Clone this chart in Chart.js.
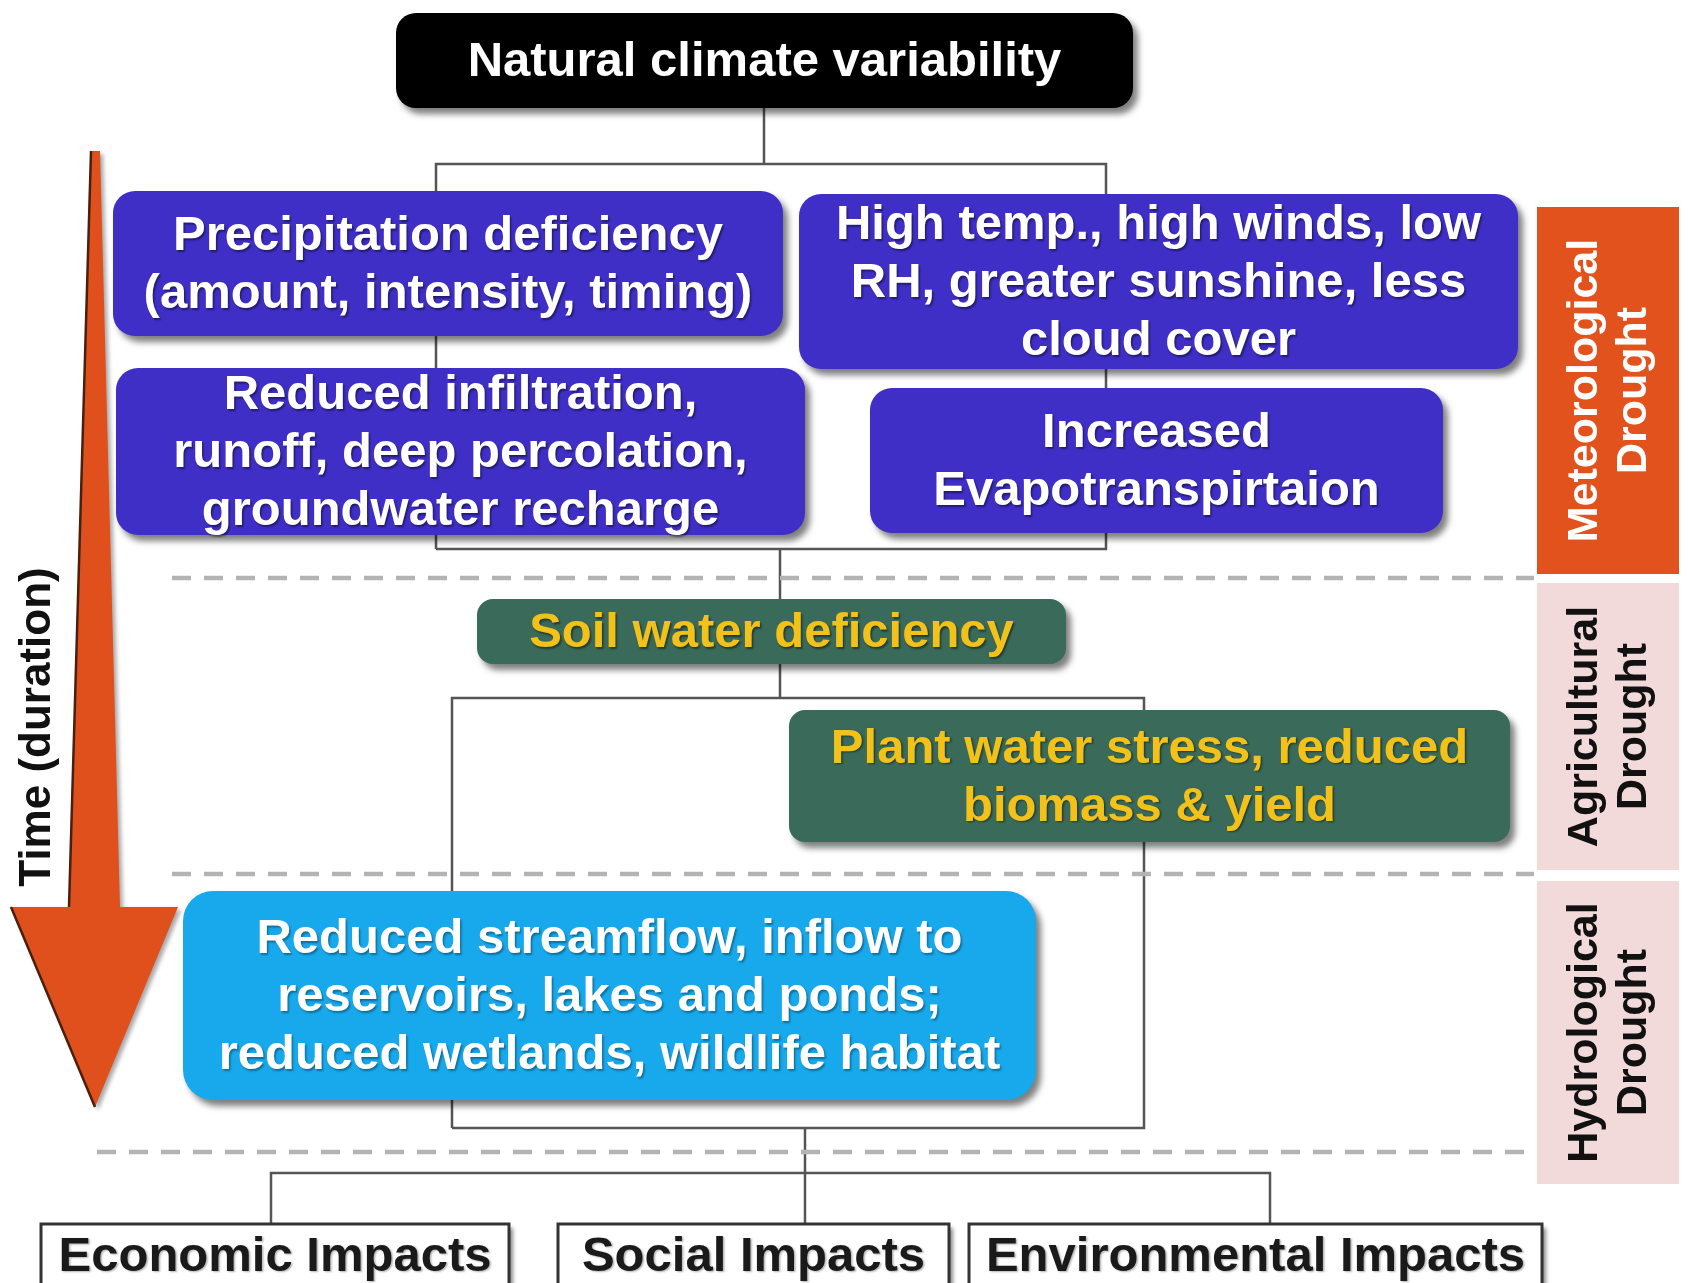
<!DOCTYPE html>
<html>
<head>
<meta charset="utf-8">
<script src="https://cdn.jsdelivr.net/npm/chart.js@4.4.1/dist/chart.umd.min.js"></script>
<style>
  html, body { margin: 0; padding: 0; background: #fff; }
  #wrap { width: 1688px; height: 1283px; position: relative; }
</style>
</head>
<body>
<div id="wrap"><canvas id="diagram"></canvas></div>
<script>
// ---- texts of the diagram ----
const topLabel = ['Natural climate variability'];
const meteoLabels = [
  ['Precipitation deficiency', '(amount, intensity, timing)'],
  ['High temp., high winds, low', 'RH, greater sunshine, less', 'cloud cover'],
  ['Reduced infiltration,', 'runoff, deep percolation,', 'groundwater recharge'],
  ['Increased', 'Evapotranspirtaion']
];
const agriLabels = [
  ['Soil water deficiency'],
  ['Plant water stress, reduced', 'biomass & yield']
];
const hydroLabels = [
  ['Reduced streamflow, inflow to', 'reservoirs, lakes and ponds;', 'reduced wetlands, wildlife habitat']
];
const impactLabels = ['Economic Impacts', 'Social Impacts', 'Environmental Impacts'];
const stageLabels = [
  ['Meteorological', 'Drought'],
  ['Agricultural', 'Drought'],
  ['Hydrological', 'Drought']
];
const timeLabel = 'Time (duration)';

// ---- layout, in diagram units (x: 0..1688, y: 0..1283 top-down) ----
const topBox = [396, 13, 1133, 108];
const meteoBoxes = [[113, 191, 783, 336], [799, 194, 1518, 369], [116, 368, 805, 535], [870, 388, 1443, 533]];
const agriBoxes = [[477, 599, 1066, 664], [789, 710, 1510, 842]];
const hydroBoxes = [[183, 891, 1036, 1100]];
const impactBoxes = [[41, 1224, 509, 1300], [558, 1224, 949, 1300], [969, 1224, 1542, 1300]];
const stageBoxes = [[1537, 207, 1679, 574], [1537, 583, 1679, 870], [1537, 881, 1679, 1184]];
const separatorY = [578, 874, 1152];
const separatorX0 = [172, 172, 97];
const separatorX1 = 1534;

const connectors = [
  [[764, 108], [764, 164]],
  [[436, 549], [436, 164], [1106, 164], [1106, 549], [436, 549]],
  [[780, 549], [780, 599]],
  [[780, 664], [780, 698]],
  [[452, 1128], [452, 698], [1144, 698], [1144, 1128], [452, 1128]],
  [[805, 1128], [805, 1224]],
  [[271, 1224], [271, 1173], [1270, 1173], [1270, 1224]]
];
const arrowShape = [[91, 151], [100, 151], [120, 907], [178, 907], [95, 1107], [11, 907], [69, 907]];

const colors = {
  meteo: '#3f2fc6', agri: '#3a6a5a', agriText: '#f2c21b', hydro: '#17a9ec',
  stage: ['#e2521d', '#f2dada', '#f2dada'], stageText: ['#ffffff', '#111111', '#111111'],
  line: '#555555', dash: '#b3b3b3', arrow: '#e0501c'
};

const FONT = '"Liberation Sans", Arial, sans-serif';

function toLine(path) {
  return path.map(p => ({ x: p[0], y: p[1] }));
}

const datasets = [];
separatorY.forEach((y, i) => {
  datasets.push({
    data: toLine([[separatorX0[i], y], [separatorX1, y]]),
    showLine: true, borderColor: colors.dash, borderWidth: 4.5,
    borderDash: [19, 13], pointRadius: 0
  });
});
connectors.forEach(path => {
  datasets.push({
    data: toLine(path), showLine: true, borderColor: colors.line,
    borderWidth: 2.5, pointRadius: 0, tension: 0
  });
});

function rect(chart, b) {
  const sx = chart.scales.x, sy = chart.scales.y;
  const x0 = sx.getPixelForValue(b[0]), y0 = sy.getPixelForValue(b[1]);
  const x1 = sx.getPixelForValue(b[2]), y1 = sy.getPixelForValue(b[3]);
  return { x: x0, y: y0, w: x1 - x0, h: y1 - y0 };
}

function drawBox(ctx, chart, b, fill, radius, lines, textColor, textShadow) {
  const r = rect(chart, b);
  ctx.save();
  ctx.shadowColor = 'rgba(0,0,0,0.5)';
  ctx.shadowOffsetX = 5;
  ctx.shadowOffsetY = 6;
  ctx.shadowBlur = 6;
  ctx.fillStyle = fill;
  ctx.beginPath();
  ctx.roundRect(r.x, r.y, r.w, r.h, radius);
  ctx.fill();
  ctx.restore();
  drawLines(ctx, r.x + r.w / 2, r.y + r.h / 2, lines, textColor, textShadow, 'bold 49px ' + FONT, 58);
}

function drawLines(ctx, cx, cy, lines, color, shadow, font, step) {
  ctx.save();
  ctx.font = font;
  ctx.fillStyle = color;
  ctx.textAlign = 'center';
  ctx.textBaseline = 'middle';
  if (shadow) {
    ctx.shadowColor = shadow;
    ctx.shadowOffsetX = 1.5;
    ctx.shadowOffsetY = 1.5;
    ctx.shadowBlur = 2;
  }
  const start = cy - (lines.length - 1) * step / 2;
  lines.forEach((t, i) => ctx.fillText(t, cx, start + i * step + 2));
  ctx.restore();
}

const diagramPlugin = {
  id: 'diagram',
  beforeDatasetsDraw(chart) {
    const ctx = chart.ctx;
    const sx = chart.scales.x, sy = chart.scales.y;
    // time arrow
    ctx.save();
    ctx.shadowColor = 'rgba(0,0,0,0.35)';
    ctx.shadowOffsetX = 3;
    ctx.shadowOffsetY = 3;
    ctx.shadowBlur = 4;
    ctx.fillStyle = colors.arrow;
    ctx.beginPath();
    arrowShape.forEach((p, i) => {
      const x = sx.getPixelForValue(p[0]), y = sy.getPixelForValue(p[1]);
      i ? ctx.lineTo(x, y) : ctx.moveTo(x, y);
    });
    ctx.closePath();
    ctx.fill();
    ctx.restore();
    ctx.save();
    ctx.strokeStyle = '#4a1f0c';
    ctx.lineWidth = 2.5;
    ctx.beginPath();
    ctx.moveTo(sx.getPixelForValue(arrowShape[0][0]), sy.getPixelForValue(arrowShape[0][1]));
    ctx.lineTo(sx.getPixelForValue(arrowShape[6][0]), sy.getPixelForValue(arrowShape[6][1]));
    ctx.moveTo(sx.getPixelForValue(arrowShape[5][0]), sy.getPixelForValue(arrowShape[5][1]));
    ctx.lineTo(sx.getPixelForValue(arrowShape[4][0]), sy.getPixelForValue(arrowShape[4][1]));
    ctx.stroke();
    ctx.restore();
    // time label
    ctx.save();
    ctx.translate(sx.getPixelForValue(38), sy.getPixelForValue(727));
    ctx.rotate(-Math.PI / 2);
    ctx.font = 'bold 44px ' + FONT;
    ctx.fillStyle = '#111';
    ctx.textAlign = 'center';
    ctx.textBaseline = 'middle';
    ctx.fillText(timeLabel, 0, 0);
    ctx.restore();
  },
  afterDatasetsDraw(chart) {
    const ctx = chart.ctx;
    drawBox(ctx, chart, topBox, '#000000', 20, topLabel, '#ffffff', null);
    meteoBoxes.forEach((b, i) => drawBox(ctx, chart, b, colors.meteo, 22, meteoLabels[i], '#ffffff', 'rgba(0,0,0,0.45)'));
    agriBoxes.forEach((b, i) => drawBox(ctx, chart, b, colors.agri, 16, agriLabels[i], colors.agriText, 'rgba(0,0,0,0.45)'));
    hydroBoxes.forEach((b, i) => drawBox(ctx, chart, b, colors.hydro, 30, hydroLabels[i], '#ffffff', 'rgba(0,0,0,0.35)'));

    // impact boxes
    impactBoxes.forEach((b, i) => {
      const r = rect(chart, b);
      ctx.save();
      ctx.shadowColor = 'rgba(0,0,0,0.45)';
      ctx.shadowOffsetX = 4;
      ctx.shadowOffsetY = 4;
      ctx.shadowBlur = 4;
      ctx.fillStyle = '#fff';
      ctx.fillRect(r.x, r.y, r.w, r.h);
      ctx.restore();
      ctx.save();
      ctx.strokeStyle = '#333';
      ctx.lineWidth = 3;
      ctx.strokeRect(r.x, r.y, r.w, r.h);
      ctx.restore();
      drawLines(ctx, r.x + r.w / 2, chart.scales.y.getPixelForValue(1255), [impactLabels[i]], '#1a1a1a', 'rgba(0,0,0,0.3)', 'bold 49px ' + FONT, 58);
    });

    // drought stage bands on the right
    stageBoxes.forEach((b, i) => {
      const r = rect(chart, b);
      ctx.save();
      ctx.fillStyle = colors.stage[i];
      ctx.fillRect(r.x, r.y, r.w, r.h);
      ctx.restore();
      ctx.save();
      ctx.translate(r.x + r.w / 2, r.y + r.h / 2);
      ctx.rotate(-Math.PI / 2);
      drawLines(ctx, 0, 0, stageLabels[i], colors.stageText[i], null, 'bold 43px ' + FONT, 49);
      ctx.restore();
    });
  }
};

new Chart(document.getElementById('diagram'), {
  type: 'scatter',
  data: { datasets },
  options: {
    responsive: true,
    maintainAspectRatio: false,
    animation: false,
    events: [],
    layout: { padding: 0 },
    scales: {
      x: { type: 'linear', min: 0, max: 1688, display: false },
      y: { type: 'linear', min: 0, max: 1283, reverse: true, display: false }
    },
    plugins: { legend: { display: false }, tooltip: { enabled: false } }
  },
  plugins: [diagramPlugin]
});
</script>
</body>
</html>
